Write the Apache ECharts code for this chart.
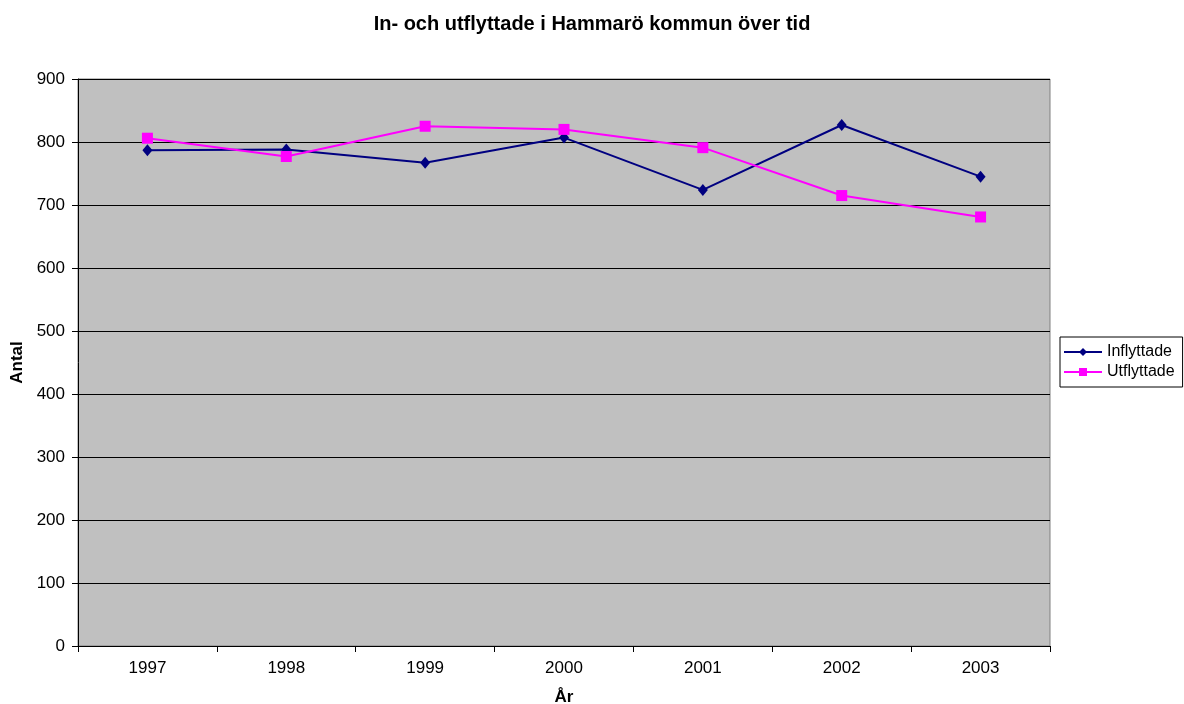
<!DOCTYPE html>
<html>
<head>
<meta charset="utf-8">
<script src="https://cdn.jsdelivr.net/npm/echarts@6/dist/echarts.min.js"></script>
<style>
  html, body { margin: 0; padding: 0; background: #fff; }
  #chart { width: 1184px; height: 704px; }
</style>
</head>
<body>
<div id="chart"></div>
<script>
// data
var years = ['1997', '1998', '1999', '2000', '2001', '2002', '2003'];
var inflyttade = [787, 788, 767, 807, 724, 827, 745];
var utflyttade = [806, 777, 825, 820, 791, 715, 681];
var yTicks = { min: 0, max: 900, step: 100 };

var font = '"Liberation Sans", Arial, sans-serif';
var myChart = echarts.init(document.getElementById('chart'));

var option = {
  backgroundColor: '#fff',
  animation: false,
  title: {
    text: 'In- och utflyttade i Hammarö kommun över tid',
    left: 'center',
    top: 9,
    textStyle: { fontFamily: font, fontSize: 20, fontWeight: 'bold', color: '#000' }
  },
  legend: {
    orient: 'vertical',
    left: 1060,
    top: 337,
    itemWidth: 38,
    itemHeight: 10,
    itemGap: 4,
    padding: [7, 8, 7, 3],
    borderColor: '#000',
    borderWidth: 1,
    textStyle: { fontFamily: font, fontSize: 16, color: '#000' },
    data: ['Inflyttade', 'Utflyttade']
  },
  grid: {
    left: 78,
    right: 134,
    top: 79,
    bottom: 58,
    outerBoundsMode: 'none',
    containLabel: false,
    show: true,
    backgroundColor: '#C0C0C0',
    borderColor: '#808080',
    borderWidth: 1
  },
  xAxis: {
    type: 'category',
    data: years,
    boundaryGap: true,
    name: 'År',
    nameLocation: 'middle',
    nameGap: 43,
    nameTextStyle: { fontFamily: font, fontSize: 17, fontWeight: 'bold', color: '#000' },
    axisLine: { lineStyle: { color: '#000', width: 1 } },
    axisTick: { show: true, length: 6, lineStyle: { color: '#000' } },
    axisLabel: { fontFamily: font, fontSize: 17, color: '#000', margin: 14 }
  },
  yAxis: {
    type: 'value',
    min: yTicks.min,
    max: yTicks.max,
    interval: yTicks.step,
    name: 'Antal',
    nameLocation: 'middle',
    nameGap: 50,
    nameTextStyle: { fontFamily: font, fontSize: 17, fontWeight: 'bold', color: '#000' },
    axisLine: { show: true, lineStyle: { color: '#000', width: 1 } },
    axisTick: { show: true, length: 6, lineStyle: { color: '#000' } },
    axisLabel: { fontFamily: font, fontSize: 17, color: '#000', margin: 13 },
    splitLine: { show: true, lineStyle: { color: '#000', width: 1 } }
  },
  series: [
    {
      name: 'Inflyttade',
      type: 'line',
      data: inflyttade,
      symbol: 'diamond',
      symbolSize: [10, 12],
      color: '#000080',
      lineStyle: { color: '#000080', width: 2 },
      itemStyle: { color: '#000080' }
    },
    {
      name: 'Utflyttade',
      type: 'line',
      data: utflyttade,
      symbol: 'rect',
      symbolSize: 11,
      color: '#FF00FF',
      lineStyle: { color: '#FF00FF', width: 2 },
      itemStyle: { color: '#FF00FF' }
    }
  ]
};

myChart.setOption(option);
</script>
</body>
</html>
